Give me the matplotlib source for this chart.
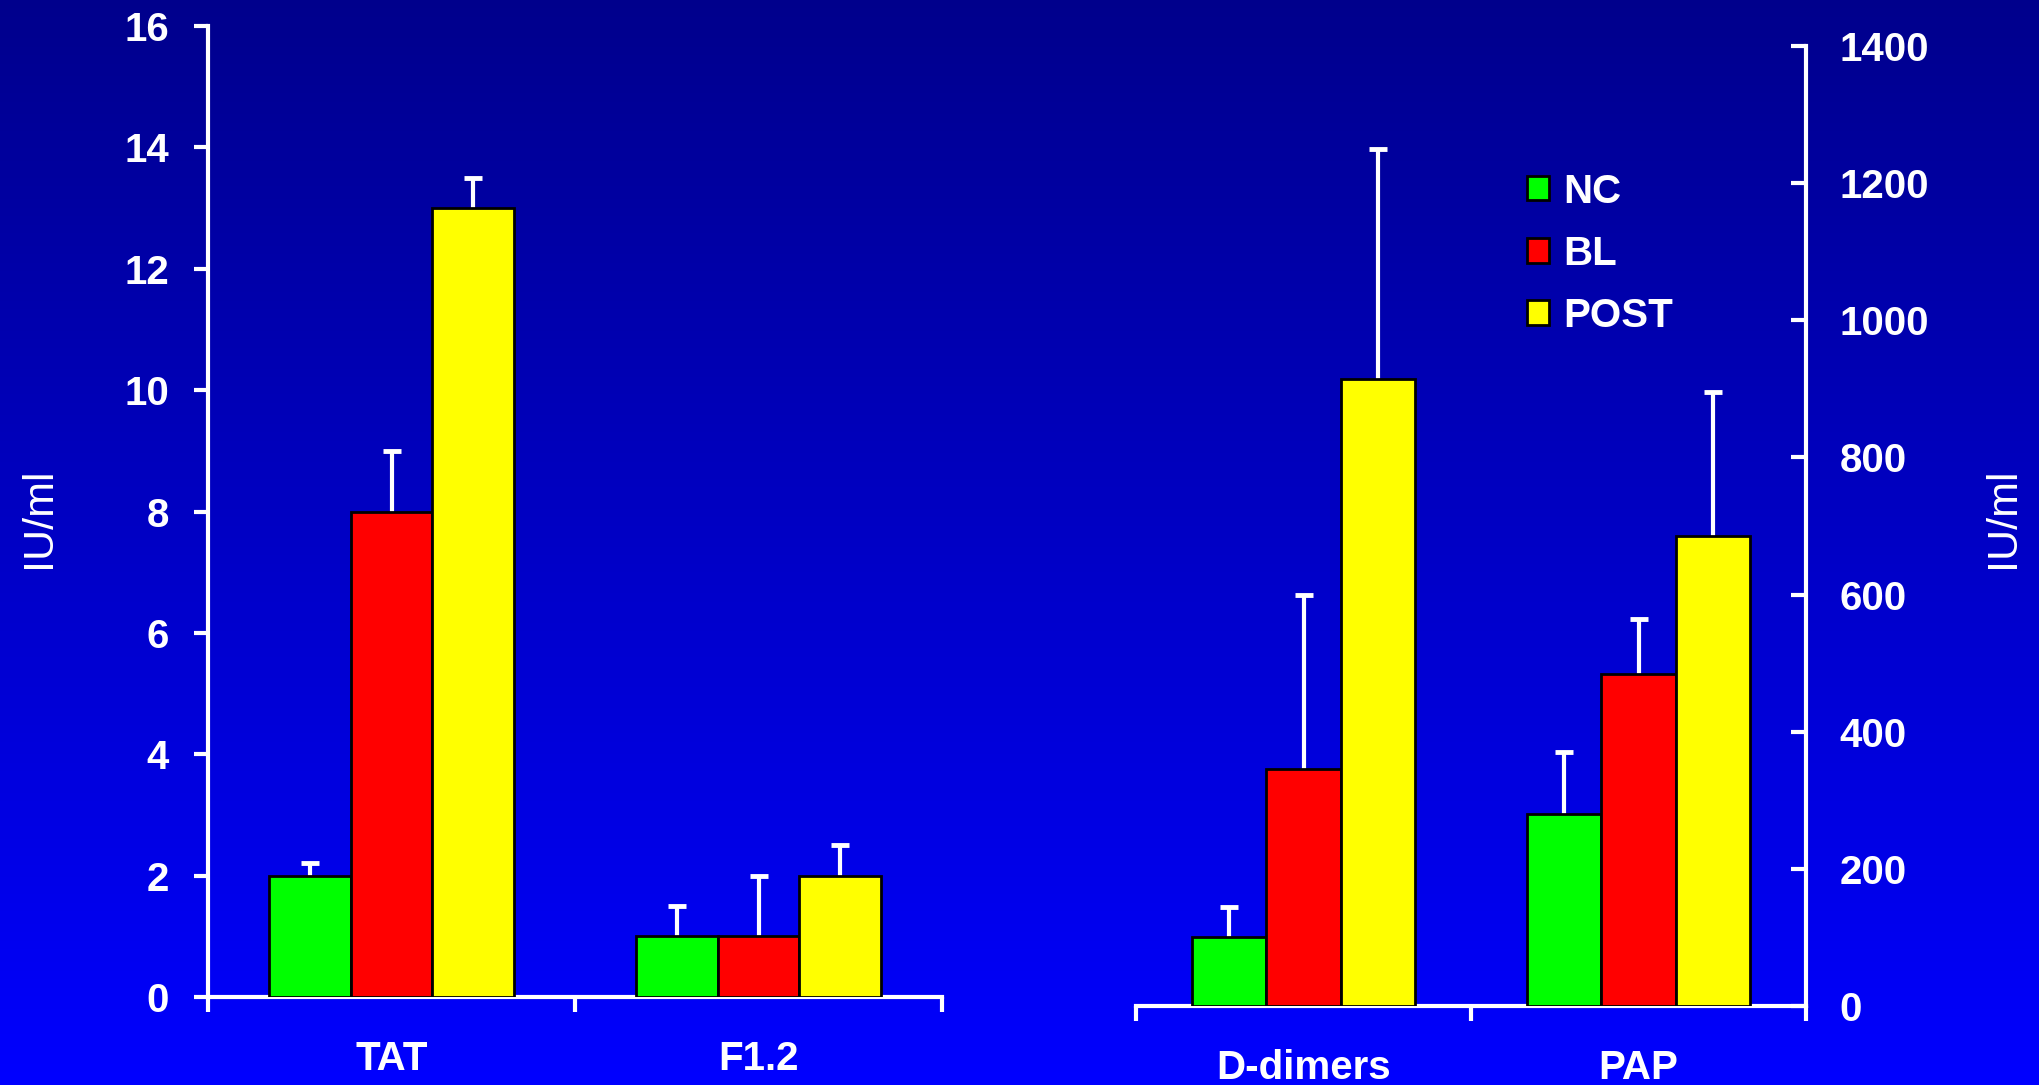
import matplotlib.pyplot as plt
import numpy as np
from matplotlib.patches import Patch

plt.rcParams["font.family"] = ["Liberation Sans", "DejaVu Sans"]

groups = ["NC", "BL", "POST"]
colors = ["#00ff00", "#ff0000", "#ffff00"]

left_cats = ["TAT", "F1.2"]
left_vals = [[2, 1], [8, 1], [13, 2]]
left_err = [[0.2, 0.5], [1.0, 1.0], [0.5, 0.5]]

right_cats = ["D-dimers", "PAP"]
right_vals = [[100, 280], [345, 484], [915, 685]]
right_err = [[45, 90], [255, 81], [335, 211]]

fig = plt.figure(figsize=(20.4, 10.85), dpi=100)

# background gradient, dark navy at the top, bright blue at the bottom
bg = fig.add_axes([0, 0, 1, 1], zorder=-10)
grad = np.linspace(0, 1, 256)
img = np.zeros((256, 1, 3))
img[:, 0, 2] = 0.55 + 0.45 * grad
bg.imshow(img, aspect="auto", extent=[0, 1, 0, 1])
bg.axis("off")

FS = 29
width = 0.222


def draw_panel(ax, cats, vals, errs, ymax, yticks, side):
    x = np.arange(len(cats))
    for i in range(3):
        xs = x + (i - 1) * width
        v = np.array(vals[i])
        top = v + np.array(errs[i])
        ax.bar(xs, v, width, color=colors[i], edgecolor="black", linewidth=2, zorder=3)
        # upper-only error bars: stem from bar top, cap at the end
        ax.vlines(xs, v, top, color="white", linewidth=3, zorder=2)
        ax.plot(xs, top, linestyle="none", marker="_", markersize=13,
                markeredgewidth=3.5, color="white", zorder=2)
    ax.set_xlim(-0.5, len(cats) - 0.5)
    ax.set_ylim(0, ymax)
    ax.set_facecolor("none")
    for s in ["top", "left", "right"]:
        ax.spines[s].set_visible(False)
    ax.spines[side].set_visible(True)
    for s in ["bottom", side]:
        ax.spines[s].set_color("white")
        ax.spines[s].set_linewidth(3)
    ax.set_xticks([-0.5, 0.5, len(cats) - 0.5])
    ax.set_xticklabels([])
    ax.set_xticks(x, minor=True)
    ax.set_xticklabels(cats, minor=True, fontsize=FS, fontweight="bold", color="white")
    ax.tick_params(axis="x", which="major", direction="out", length=11, width=3, color="white")
    ax.tick_params(axis="x", which="minor", length=0, pad=31)
    ax.set_yticks(yticks)
    if side == "right":
        ax.yaxis.tick_right()
        ax.tick_params(axis="y", direction="in", length=11, width=3, color="white",
                       labelcolor="white", labelsize=FS, pad=24)
    else:
        ax.tick_params(axis="y", direction="out", length=10, width=3, color="white",
                       labelcolor="white", labelsize=FS, pad=18)
    for lab in ax.get_yticklabels():
        lab.set_fontweight("bold")


ax1 = fig.add_axes([0.1020, 0.0811, 0.3598, 0.8949])
draw_panel(ax1, left_cats, left_vals, left_err, 16, range(0, 17, 2), "left")

ax2 = fig.add_axes([0.5569, 0.0728, 0.3284, 0.8848])
draw_panel(ax2, right_cats, right_vals, right_err, 1400, range(0, 1401, 200), "right")

fig.text(0.019, 0.5226, "IU/ml", rotation=90, ha="center", va="center", fontsize=31, color="white")
fig.text(0.982, 0.5226, "IU/ml", rotation=90, ha="center", va="center", fontsize=31, color="white")

handles = [Patch(facecolor=c, edgecolor="black", linewidth=2) for c in colors]
leg = fig.legend(handles, groups, loc="upper left", bbox_to_anchor=(0.7485, 0.841),
                 frameon=False, fontsize=FS, handlelength=0.55, handleheight=0.55,
                 handletextpad=0.35, labelspacing=0.6, borderpad=0, borderaxespad=0)
for t in leg.get_texts():
    t.set_color("white")
    t.set_fontweight("bold")

fig.savefig("out.png", dpi=100)
